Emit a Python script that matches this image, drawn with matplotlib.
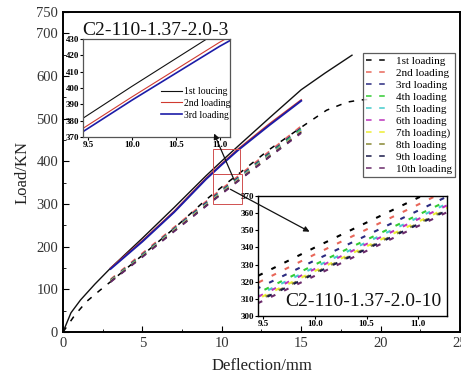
import matplotlib
matplotlib.use("Agg")
import matplotlib.pyplot as plt
from matplotlib.patches import Rectangle, FancyArrowPatch
from matplotlib.ticker import MultipleLocator

plt.rcParams['font.family'] = ['Liberation Serif', 'DejaVu Serif']
plt.rcParams['lines.scale_dashes'] = False

# ---------------- data ----------------
# Specimen C2-110-1.37-2.0-3 (solid lines)
s3_x1 = [0, 0.5, 1.1, 2.0, 3.0, 5.0, 7.0, 9.0, 10.0, 11.0, 13.0, 15.0, 16.5, 18.2]
s3_y1 = [0, 45, 75, 112, 150, 220, 292, 366, 401, 435, 502, 568, 607, 649]
s3_x2 = [3.0, 5.0, 7.0, 9.0, 10.0, 11.0, 13.0, 15.0]
s3_y2 = [150, 214, 283, 360, 394.5, 428, 488, 544]
s3_y3 = [148, 212, 281, 358, 392.5, 425.5, 485, 542]
s3_labels = ["1st loucing", "2nd loading", "3rd loading"]
s3_colors = ["#111111", "#d03a30", "#1c1ca8"]

# Specimen C2-110-1.37-2.0-10 (dashed lines)
s10_x1 = [0, 0.75, 1.5, 2.33, 3.0, 5.0, 7.0, 9.0, 10.0, 11.0, 13.0, 15.2, 16.6, 17.9, 18.7, 19.6]
s10_y1 = [0, 40, 72, 98, 118, 180, 243, 310, 340, 369, 428, 485, 520, 539, 544, 546]
s10_x = [3.0, 5.0, 7.0, 9.0, 10.0, 11.0, 13.0, 15.0]
s10_y2 = [124, 185, 246, 306, 336, 365, 424, 483]
s10_y3 = [122, 182, 243, 303, 332.5, 361.5, 420, 479]
s10_y4 = [121, 180, 241, 300, 330, 359, 417, 476]
s10_y5 = [120, 179, 240, 299, 328.5, 357.5, 415, 473]
s10_y6 = [119.5, 178, 239, 298, 327.5, 356.5, 414, 471]
s10_y7 = [119, 177.5, 238, 297, 326.3, 355, 412.5, 470]
s10_y8 = [118.5, 177, 237, 296, 325.3, 354, 411.5, 469]
s10_y9 = [118, 176.5, 236.5, 295.5, 324.8, 353.5, 411, 468]
s10_y10 = [117, 175.5, 235.5, 294.5, 323.5, 352.5, 410, 466]
s10_labels = ["1st loading", "2nd loading", "3rd loading", "4th loading", "5th loading",
              "6th loading", "7th loading)", "8th loading", "9th loading", "10th loading"]
s10_colors = ["#000000", "#e8675a", "#2a2a80", "#33cc33", "#44cccc",
              "#bb33bb", "#eeee33", "#888833", "#1a1a4a", "#6a2a6a"]

x_ticks = [0, 5, 10, 15, 20, 25]
y_ticks = [0, 100, 200, 300, 400, 500, 600, 700, 750]

# ---------------- figure ----------------
fig = plt.figure(figsize=(4.61, 3.79), dpi=100)
ax = fig.add_axes([0.1367, 0.124, 0.861, 0.844])

s10_series = [(s10_x1, s10_y1)] + [(s10_x, y) for y in
              [s10_y2, s10_y3, s10_y4, s10_y5, s10_y6, s10_y7, s10_y8, s10_y9, s10_y10]]

handles = []
for (xx, yy), c, lab in zip(s10_series, s10_colors, s10_labels):
    h, = ax.plot(xx, yy, color=c, lw=1.1, dashes=(4, 5.5), label=lab)
    handles.append(h)

s3_series = [(s3_x1, s3_y1), (s3_x2, s3_y2), (s3_x2, s3_y3)]
for (xx, yy), c, lw in zip(s3_series, s3_colors, [1.0, 1.2, 1.4]):
    ax.plot(xx, yy, color=c, lw=lw)

ax.set_xlim(0, 25)
ax.set_ylim(0, 750)
ax.set_xticks(x_ticks)
ax.set_yticks(y_ticks)
ax.xaxis.set_minor_locator(MultipleLocator(2.5))
ax.yaxis.set_minor_locator(MultipleLocator(50))
ax.tick_params(direction='in', which='both', labelsize=10.5, labelcolor='#333333')
ax.tick_params(which='major', length=4)
ax.tick_params(which='minor', length=2.5)
for sp in ax.spines.values():
    sp.set_linewidth(1.4)
ax.set_xlabel("Deflection/mm", fontsize=12, color='#222222', labelpad=6)
ax.set_ylabel("Load/KN", fontsize=12, color='#222222', labelpad=4)

# legend box in reference: x 363..445 px, y 53..185 px
leg = ax.legend(handles=handles, loc='upper left',
                bbox_to_anchor=((363 - 63) / 397.0, 1 - (53 - 12) / 320.0),
                fontsize=8, frameon=True, fancybox=False, edgecolor='#333333',
                handlelength=2.2, labelspacing=0.2, borderpad=0.25, handletextpad=0.5,
                borderaxespad=0.0)
leg.get_frame().set_linewidth(0.9)

# zoom region rectangles
ax.add_patch(Rectangle((9.45, 370), 1.67, 60, fill=False, ec='#d05050', lw=0.7, zorder=5))
ax.add_patch(Rectangle((9.45, 300), 1.83, 70, fill=False, ec='#d05050', lw=0.7, zorder=5))

ax.text(0.048, 0.927, "C2-110-1.37-2.0-3", transform=ax.transAxes, fontsize=14,
        color='#111111', ha='left', va='baseline')

# ---------------- inset 1 ----------------
ax1 = fig.add_axes([0.180, 0.639, 0.319, 0.258])
for (xx, yy), c, lw, lab in zip(s3_series, s3_colors, [0.8, 0.8, 1.2], s3_labels):
    ax1.plot(xx, yy, color=c, lw=lw, label=lab)
ax1.set_xlim(9.44, 11.12)
ax1.set_ylim(370, 430)
ax1.set_xticks([9.5, 10.0, 10.5, 11.0])
ax1.set_yticks([370, 380, 390, 400, 410, 420, 430])
ax1.tick_params(direction='out', length=2, labelsize=6.5, pad=1)
for lab in ax1.get_xticklabels() + ax1.get_yticklabels():
    lab.set_fontweight('bold')
for sp in ax1.spines.values():
    sp.set_linewidth(0.9)
    sp.set_color('#555555')
ax1.legend(loc='upper left', bbox_to_anchor=(0.53, 0.51), fontsize=7, frameon=False,
           handlelength=2.2, labelspacing=0.3, handletextpad=0.2, borderpad=0,
           borderaxespad=0)

# ---------------- inset 2 ----------------
ax2 = fig.add_axes([0.560, 0.166, 0.410, 0.317])
for (xx, yy), c in zip(s10_series, s10_colors):
    ax2.plot(xx, yy, color=c, lw=1.5, dashes=(3.5, 7))
ax2.set_xlim(9.45, 11.28)
ax2.set_ylim(300, 370)
ax2.set_xticks([9.5, 10.0, 10.5, 11.0])
ax2.set_yticks([300, 310, 320, 330, 340, 350, 360, 370])
ax2.tick_params(direction='out', length=2, labelsize=6.5, pad=1)
for lab in ax2.get_xticklabels() + ax2.get_yticklabels():
    lab.set_fontweight('bold')
for sp in ax2.spines.values():
    sp.set_linewidth(1.0)
ax2.text(0.97, 0.12, "C2-110-1.37-2.0-10", transform=ax2.transAxes, fontsize=14,
         color='#111111', ha='right', va='center')

# ---------------- arrows ----------------
def fp(px, py):
    return (px / 461.0, 1 - py / 379.0)

fig.add_artist(FancyArrowPatch(fp(235, 182), fp(213, 131), transform=fig.transFigure,
                               arrowstyle='-|>', mutation_scale=8, lw=0.9, color='#111111',
                               zorder=10))
fig.add_artist(FancyArrowPatch(fp(228, 188), fp(312, 233), transform=fig.transFigure,
                               arrowstyle='-|>', mutation_scale=8, lw=0.9, color='#111111',
                               zorder=10))

fig.savefig("out.png", dpi=100)
